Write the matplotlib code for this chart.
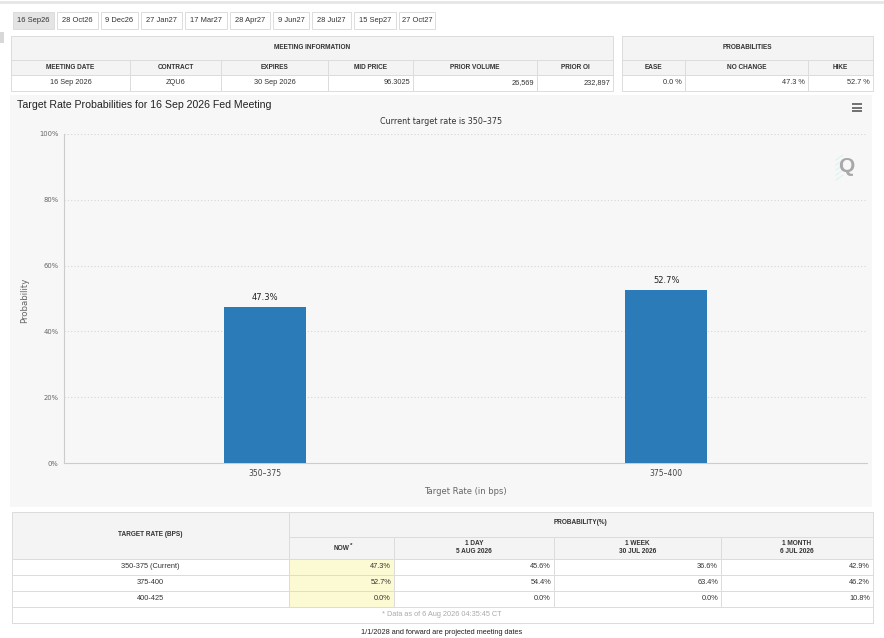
import matplotlib
matplotlib.use("Agg")
import matplotlib.pyplot as plt
from matplotlib.patches import Rectangle

plt.rcParams['font.family'] = ['Liberation Sans', 'DejaVu Sans']

# tabs
tabs = ["16 Sep26", "28 Oct26", "9 Dec26", "27 Jan27", "17 Mar27",
        "28 Apr27", "9 Jun27", "28 Jul27", "15 Sep27", "27 Oct27"]

# meeting information table
meet_cols = ["MEETING DATE", "CONTRACT", "EXPIRES", "MID PRICE", "PRIOR VOLUME", "PRIOR OI"]
meet_vals = ["16 Sep 2026", "ZQU6", "30 Sep 2026", "96.3025", "26,569", "232,897"]
prob_cols = ["EASE", "NO CHANGE", "HIKE"]
prob_vals = ["0.0 %", "47.3 %", "52.7 %"]

# chart
rates = ["350\u2013375", "375\u2013400"]
probs = [47.3, 52.7]
yticks = [0, 20, 40, 60, 80, 100]

# bottom table
tbl_rates = ["350-375 (Current)", "375-400", "400-425"]
now = [47.3, 52.7, 0.0]
day1 = [45.6, 54.4, 0.0]
week1 = [36.6, 63.4, 0.0]
month1 = [42.9, 46.2, 10.8]
period_heads = ["1 DAY\n5 AUG 2026", "1 WEEK\n30 JUL 2026", "1 MONTH\n6 JUL 2026"]

W, H = 884, 638
fig = plt.figure(figsize=(W/100, H/100), dpi=100)
fig.patch.set_facecolor("white")
bg = fig.add_axes([0, 0, 1, 1])
bg.set_xlim(0, W)
bg.set_ylim(H, 0)
bg.axis("off")

EDGE = "#dcdcdc"
HEAD = "#f4f4f4"

def cell(x0, x1, y0, y1, fc="white", ec=EDGE):
    bg.add_patch(Rectangle((x0, y0), x1-x0, y1-y0, facecolor=fc, edgecolor=ec, lw=0.7))

def txt(x, y, s, size=5.3, ha="center", weight="normal", color="#333333", **kw):
    bg.text(x, y, s, fontsize=size, ha=ha, va="center", weight=weight, color=color, **kw)

# top strip and small side block
bg.plot([0, W], [1.5, 1.5], color="#e6e6e6", lw=2)
bg.add_patch(Rectangle((0, 32), 3.5, 11, facecolor="#d8d8d8", edgecolor="none"))

# tabs
tab_x = [13, 57, 101, 141, 185, 230, 273, 312, 354, 399, 438]
for i, t in enumerate(tabs):
    x0, x1 = tab_x[i], tab_x[i+1] - 3
    cell(x0, x1, 12, 29, fc="#e4e4e4" if i == 0 else "white")
    txt((x0+x1)/2, 20.5, t, size=5.4)

# meeting information table
mx = [11, 130, 221, 328, 413, 537, 613]
cell(mx[0], mx[-1], 36, 60, fc=HEAD)
txt((mx[0]+mx[-1])/2, 47.5, "MEETING INFORMATION", size=4.7, weight="bold")
for i in range(len(meet_cols)):
    cell(mx[i], mx[i+1], 60, 75, fc=HEAD)
    txt((mx[i]+mx[i+1])/2, 67.5, meet_cols[i], size=4.7, weight="bold")
    cell(mx[i], mx[i+1], 75, 91)
    if i < 3:
        txt((mx[i]+mx[i+1])/2, 83, meet_vals[i], size=5.3)
    else:
        txt(mx[i+1]-3, 83, meet_vals[i], size=5.3, ha="right")

px = [622, 685, 808, 873]
cell(px[0], px[-1], 36, 60, fc=HEAD)
txt((px[0]+px[-1])/2, 47.5, "PROBABILITIES", size=4.7, weight="bold")
for i in range(len(prob_cols)):
    cell(px[i], px[i+1], 60, 75, fc=HEAD)
    txt((px[i]+px[i+1])/2, 67.5, prob_cols[i], size=4.7, weight="bold")
    cell(px[i], px[i+1], 75, 91)
    txt(px[i+1]-3, 83, prob_vals[i], size=5.3, ha="right")

# chart panel
bg.add_patch(Rectangle((10, 95), 862, 412, facecolor="#f7f7f7", edgecolor="none"))
txt(17, 105, "Target Rate Probabilities for 16 Sep 2026 Fed Meeting", size=7.6, ha="left", color="#222222")
txt(441, 122, "Current target rate is 350\u2013375", size=5.8, family="DejaVu Sans")
for yy in (104, 107.5, 111):
    bg.plot([852, 862], [yy, yy], color="#666666", lw=1.3, solid_capstyle="butt")
for k in range(5):
    bg.plot([836, 843], [180 - k*5, 175 - k*5], color="#d8f2f4", lw=0.7)
txt(846, 167, "Q", size=15, weight="bold", color="#a8a8a8")
bg.text(25, 300, "Probability", fontsize=6.2, rotation=90, ha="center", va="center",
        color="#666666", family="DejaVu Sans")

ax = fig.add_axes([64/W, 1 - 463/H, 803/W, 329/H])
ax.set_facecolor("none")
ax.bar(range(len(rates)), probs, width=0.205, color="#2b7bb9", zorder=3)
for i, p in enumerate(probs):
    ax.text(i, p + 1.5, f"{p}%", ha="center", va="bottom", fontsize=6,
            color="#222222", family="DejaVu Sans")
ax.set_xlim(-0.5, len(rates) - 0.5)
ax.set_ylim(0, 100)
ax.set_yticks(yticks)
ax.set_yticklabels([f"{v}%" for v in yticks], fontsize=4.9, color="#666666", family="DejaVu Sans")
ax.set_xticks(range(len(rates)))
ax.set_xticklabels(rates, fontsize=5.5, color="#444444", family="DejaVu Sans")
ax.tick_params(length=0, pad=4)
ax.tick_params(axis="y", pad=4)
for v in yticks[1:]:
    ax.axhline(v, color="#d6d6d6", lw=0.8, ls=(0, (1, 2)), zorder=1)
for s in ("top", "right"):
    ax.spines[s].set_visible(False)
ax.spines["left"].set_color("#cccccc")
ax.spines["bottom"].set_color("#cccccc")
ax.set_xlabel("Target Rate (in bps)", fontsize=6, color="#666666", family="DejaVu Sans", labelpad=7)

# bottom table
bx = [12, 289, 394, 554, 721, 873]
by = [512, 537, 559, 575, 591, 607, 623]
bg.add_patch(Rectangle((bx[0]+1, by[0]+1), bx[-1]-bx[0], by[-1]-by[0], facecolor="#e2e2e2", edgecolor="none"))
cell(bx[0], bx[1], by[0], by[2], fc=HEAD)
txt((bx[0]+bx[1])/2, 534, "TARGET RATE (BPS)", size=4.7, weight="bold")
cell(bx[1], bx[-1], by[0], by[1], fc=HEAD)
txt(581, 523, "PROBABILITY(%)", size=4.7, weight="bold")
for i in range(1, 5):
    cell(bx[i], bx[i+1], by[1], by[2], fc=HEAD)
txt((bx[1]+bx[2])/2, 548, "NOW", size=4.7, weight="bold")
txt((bx[1]+bx[2])/2 + 10, 545, "*", size=4.5, weight="bold")
for i, h in enumerate(period_heads):
    txt((bx[i+2]+bx[i+3])/2, 547.5, h, size=4.7, weight="bold", linespacing=1.35)
cols = [now, day1, week1, month1]
for r in range(len(tbl_rates)):
    y0, y1 = by[r+2], by[r+3]
    cell(bx[0], bx[1], y0, y1)
    txt((bx[0]+bx[1])/2, (y0+y1)/2, tbl_rates[r], size=5.3)
    for c in range(4):
        cell(bx[c+1], bx[c+2], y0, y1, fc="#fbfad2" if c == 0 else "white")
        txt(bx[c+2]-3, (y0+y1)/2, f"{cols[c][r]:.1f}%", size=5.3, ha="right")
cell(bx[0], bx[-1], by[5], by[6])
txt(442, 615, "* Data as of 6 Aug 2026 04:35:45 CT", size=5.3, color="#aaaaaa")
txt(442, 632, "1/1/2028 and forward are projected meeting dates", size=5.3, color="#222222")

fig.savefig("out.png", dpi=100)
